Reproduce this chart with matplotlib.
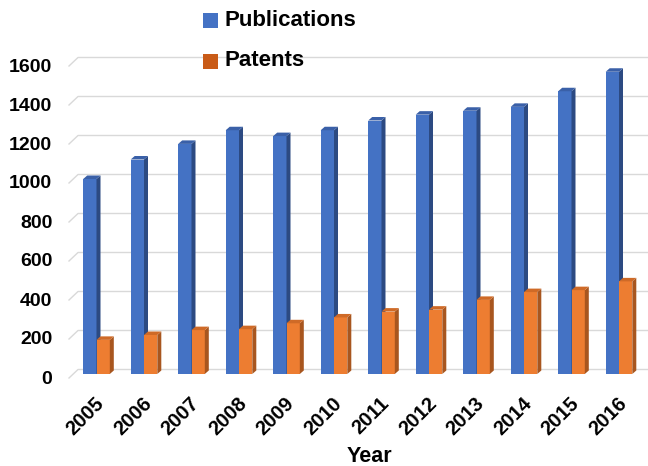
import matplotlib
matplotlib.use('Agg')
import matplotlib.pyplot as plt
from matplotlib.patches import Polygon, Rectangle
from matplotlib.transforms import ScaledTranslation

plt.rcParams['font.family'] = ['Liberation Sans', 'DejaVu Sans']
plt.rcParams['font.weight'] = 'bold'

years = ['2005', '2006', '2007', '2008', '2009', '2010',
         '2011', '2012', '2013', '2014', '2015', '2016']
publications = [1000, 1100, 1180, 1250, 1220, 1250, 1300, 1330, 1350, 1370, 1450, 1550]
patents = [175, 200, 225, 230, 260, 290, 320, 330, 380, 420, 430, 475]
y_ticks = [0, 200, 400, 600, 800, 1000, 1200, 1400, 1600]

W, H = 648, 466
fig = plt.figure(figsize=(W / 100, H / 100), dpi=100)

# axes laid out in pixels: one group every 47.5 px, 0.195 px per unit
px_x, px_y = 47.5, 0.195
left_px, base_px = 62, 374
x0 = -(96.5 - left_px) / px_x
x1 = x0 + (W - left_px) / px_x
y_top = 1700
ax = fig.add_axes([left_px / W, (H - base_px) / H, (W - left_px) / W, y_top * px_y / H])
ax.set_xlim(x0, x1)
ax.set_ylim(0, y_top)
for s in ax.spines.values():
    s.set_visible(False)

# depth of the 3D effect
dx, dy = 4 / px_x, 3.5 / px_y
bw = 13.3 / px_x

# back wall gridlines with a slanted floor edge on the left
fx, bx = (69 - 96.5) / px_x, (78 - 96.5) / px_x
for v in y_ticks:
    ax.plot([fx, bx, x1], [v - 4 / px_y, v + 4.5 / px_y, v + 4.5 / px_y],
            color='#d9d9d9', lw=1.0, zorder=1, clip_on=False)


def bar3d(xl, v, front, top, side, z):
    xr = xl + bw
    ax.add_patch(Rectangle((xl, 0), bw, v, facecolor=front, edgecolor='none', zorder=z))
    ax.add_patch(Polygon([(xr, 0), (xr + dx, dy), (xr + dx, v + dy), (xr, v)],
                         facecolor=side, edgecolor='none', zorder=z))
    ax.add_patch(Polygon([(xl, v), (xr, v), (xr + dx, v + dy), (xl + dx, v + dy)],
                         facecolor=top, edgecolor='none', zorder=z))


for i, (p, t) in enumerate(zip(publications, patents)):
    bar3d(i - bw, p, '#4472c4', '#3a60a8', '#2c4a82', 2 + i * 0.01)
    bar3d(i, t, '#ed7d31', '#cf6a27', '#a8561f', 3 + i * 0.01)

ax.set_yticks(y_ticks)
ax.set_yticklabels([str(v) for v in y_ticks], fontsize=14, fontweight='bold')
ax.tick_params(axis='y', length=0, pad=7)
for lab in ax.get_yticklabels():
    lab.set_transform(lab.get_transform() + ScaledTranslation(0, -3 / 100, fig.dpi_scale_trans))

ax.set_xticks(range(len(years)))
ax.set_xticklabels(years, rotation=45, ha='right', va='top', rotation_mode='anchor',
                   fontsize=14.5, fontweight='bold')
ax.tick_params(axis='x', length=0, pad=14)
for lab in ax.get_xticklabels():
    lab.set_transform(lab.get_transform() + ScaledTranslation(-2 / 100, 0, fig.dpi_scale_trans))

fig.text(369 / W, 1 - 456.5 / H, 'Year', ha='center', va='center',
         fontsize=15.5, fontweight='bold')

# legend drawn in figure pixels
legend = [('Publications', '#4472c4', 20.5), ('Patents', '#c95b17', 61)]
for name, col, yc in legend:
    fig.patches.append(Rectangle((203 / W, 1 - (yc + 7.5) / H), 15 / W, 15 / H,
                                 facecolor=col, edgecolor='none',
                                 transform=fig.transFigure, figure=fig))
    fig.text(225 / W, 1 - yc / H, name, ha='left', va='center',
             fontsize=16, fontweight='bold')

fig.savefig('out.png', dpi=100)
